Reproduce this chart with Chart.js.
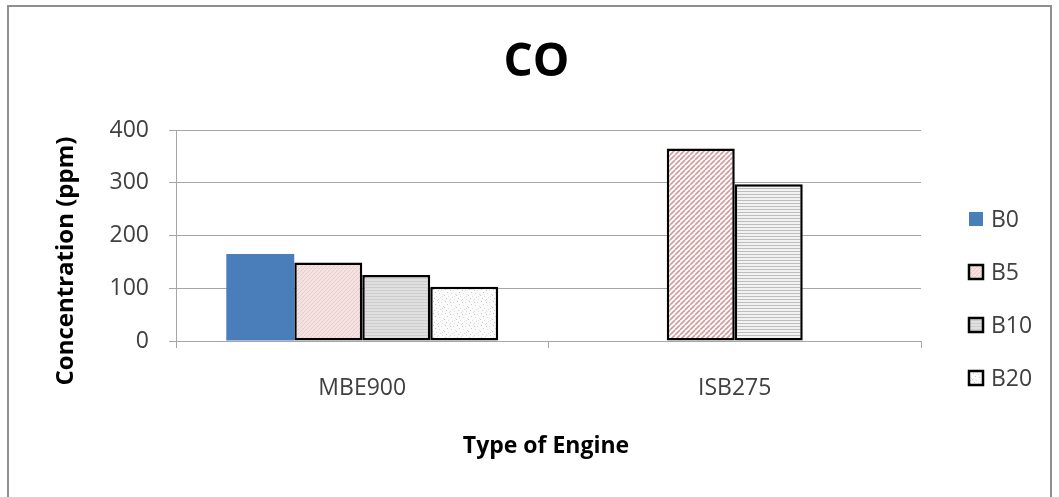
<!DOCTYPE html>
<html>
<head>
<meta charset="utf-8">
<script src="https://cdn.jsdelivr.net/npm/chart.js@4.4.1/dist/chart.umd.min.js"></script>
<style>
  html, body { margin: 0; padding: 0; background: #ffffff; }
  #chart { display: block; }
</style>
</head>
<body>
<canvas id="chart" width="1059" height="497"></canvas>
<script>
// Engine types on the category axis
const engines = ['MBE900', 'ISB275'];
// CO concentration (ppm) per fuel blend
const seriesNames = ['B0', 'B5', 'B10', 'B20'];
const b0Values = [165, null];
const b5Values = [149, 365];
const b10Values = [125, 297];
const b20Values = [103, null];
// value axis ticks
const yTicks = [0, 100, 200, 300, 400];

const chartTitle = 'CO';
const xTitle = 'Type of Engine';
const yTitle = 'Concentration (ppm)';

const FONT = '"Open Sans", "DejaVu Sans", sans-serif';

function makeTile(w, h, draw) {
  const c = document.createElement('canvas');
  c.width = w; c.height = h;
  const g = c.getContext('2d');
  draw(g, w, h);
  return g.createPattern(c, 'repeat');
}

// B5: fine pink texture (small bar) and wide pink upward diagonals (tall bar)
const pinkFine = makeTile(4, 4, (g, w, h) => {
  g.fillStyle = '#f4e1e1'; g.fillRect(0, 0, w, h);
  g.fillStyle = '#eaccCC';
  g.fillRect(0, 3, 1, 1); g.fillRect(1, 2, 1, 1); g.fillRect(2, 1, 1, 1); g.fillRect(3, 0, 1, 1);
});
const pinkDiag = makeTile(5, 5, (g, w, h) => {
  g.fillStyle = '#ffffff'; g.fillRect(0, 0, w, h);
  g.strokeStyle = '#d29a9a'; g.lineWidth = 1.6;
  for (let k = -1; k <= 1; k++) {
    g.beginPath(); g.moveTo(k * w, h); g.lineTo(k * w + w, 0); g.stroke();
  }
});
// B10: horizontal gray lines
const grayLinesDense = makeTile(4, 3, (g, w, h) => {
  g.fillStyle = '#e0e0e0'; g.fillRect(0, 0, w, h);
  g.fillStyle = '#cdcdcd'; g.fillRect(0, 2, w, 1);
});
const grayLines = makeTile(4, 3, (g, w, h) => {
  g.fillStyle = '#f2f2f2'; g.fillRect(0, 0, w, h);
  g.fillStyle = '#bdbdbd'; g.fillRect(0, 2, w, 1);
});
// B20: light speckle
const speckle = makeTile(12, 12, (g, w, h) => {
  g.fillStyle = '#fbfbfb'; g.fillRect(0, 0, w, h);
  const dots = [[1,1],[5,0],[9,2],[3,4],[7,5],[11,6],[0,7],[4,8],[8,9],[2,10],[6,11],[10,11],[6,2],[10,8]];
  dots.forEach(([x, y], i) => {
    g.fillStyle = i % 3 === 0 ? '#c8c8c8' : '#dedede';
    g.fillRect(x, y, 1, 1);
  });
});

const datasets = [
  { label: seriesNames[0], data: b0Values, backgroundColor: '#4a7ebb', borderWidth: 0 },
  { label: seriesNames[1], data: b5Values, backgroundColor: [pinkFine, pinkDiag], borderColor: '#000000', borderWidth: 2.5 },
  { label: seriesNames[2], data: b10Values, backgroundColor: [grayLinesDense, grayLines], borderColor: '#000000', borderWidth: 2.5 },
  { label: seriesNames[3], data: b20Values, backgroundColor: speckle, borderColor: '#000000', borderWidth: 2.5 }
].map(d => Object.assign(d, { borderSkipped: false, categoryPercentage: 0.73, barPercentage: 1.0 }));

// Title, axis titles, legend and frame
const decorations = {
  id: 'decorations',
  afterDraw(chart) {
    const ctx = chart.ctx;
    const area = chart.chartArea;
    ctx.save();
    // outer frame
    ctx.strokeStyle = '#8e8e8e';
    ctx.lineWidth = 2;
    ctx.strokeRect(8, 6, 1043, 520);

    ctx.fillStyle = '#000000';
    ctx.textAlign = 'center';
    ctx.textBaseline = 'middle';
    ctx.font = 'bold 46px ' + FONT;
    ctx.fillText(chartTitle, (area.left + area.right) / 2 - 12, 63);

    ctx.font = 'bold 23px ' + FONT;
    ctx.fillText(xTitle, 546, 446);

    ctx.save();
    ctx.translate(66, 261);
    ctx.rotate(-Math.PI / 2);
    ctx.font = 'bold 24px ' + FONT;
    ctx.fillText(yTitle, 0, 0);
    ctx.restore();

    // legend
    const rows = [219, 272, 325, 378];
    ctx.font = '23px ' + FONT;
    ctx.textAlign = 'left';
    chart.data.datasets.forEach((ds, i) => {
      const y = rows[i];
      const bg = Array.isArray(ds.backgroundColor) ? ds.backgroundColor[0] : ds.backgroundColor;
      ctx.fillStyle = bg;
      ctx.fillRect(969, y - 7, 14, 14);
      if (ds.borderWidth) {
        ctx.strokeStyle = '#000000';
        ctx.lineWidth = 2.5;
        ctx.strokeRect(969, y - 7, 14, 14);
      }
      ctx.fillStyle = '#404040';
      ctx.fillText(ds.label, 991, y + 1);
    });
    ctx.restore();
  }
};

new Chart(document.getElementById('chart'), {
  type: 'bar',
  data: { labels: engines, datasets },
  options: {
    responsive: false,
    animation: false,
    devicePixelRatio: 1,
    layout: { padding: { left: 0, right: 138, top: 130, bottom: 0 } },
    plugins: { legend: { display: false }, title: { display: false }, tooltip: { enabled: false } },
    scales: {
      x: {
        afterFit(scale) { scale.height = 156; },
        grid: { offset: true, drawOnChartArea: false, tickLength: 7, color: '#a6a6a6' },
        border: { display: true, color: '#a6a6a6', width: 1 },
        ticks: { padding: 27, color: '#404040', font: { family: FONT, size: 23 } }
      },
      y: {
        min: 0,
        max: yTicks[yTicks.length - 1],
        afterFit(scale) { scale.width = 176; },
        afterBuildTicks(scale) { scale.ticks = yTicks.map(v => ({ value: v })); },
        grid: { color: '#a6a6a6', tickLength: 7 },
        border: { display: true, color: '#a6a6a6', width: 1 },
        ticks: { padding: 20, color: '#404040', font: { family: FONT, size: 23 } }
      }
    }
  },
  plugins: [decorations]
});
</script>
</body>
</html>
